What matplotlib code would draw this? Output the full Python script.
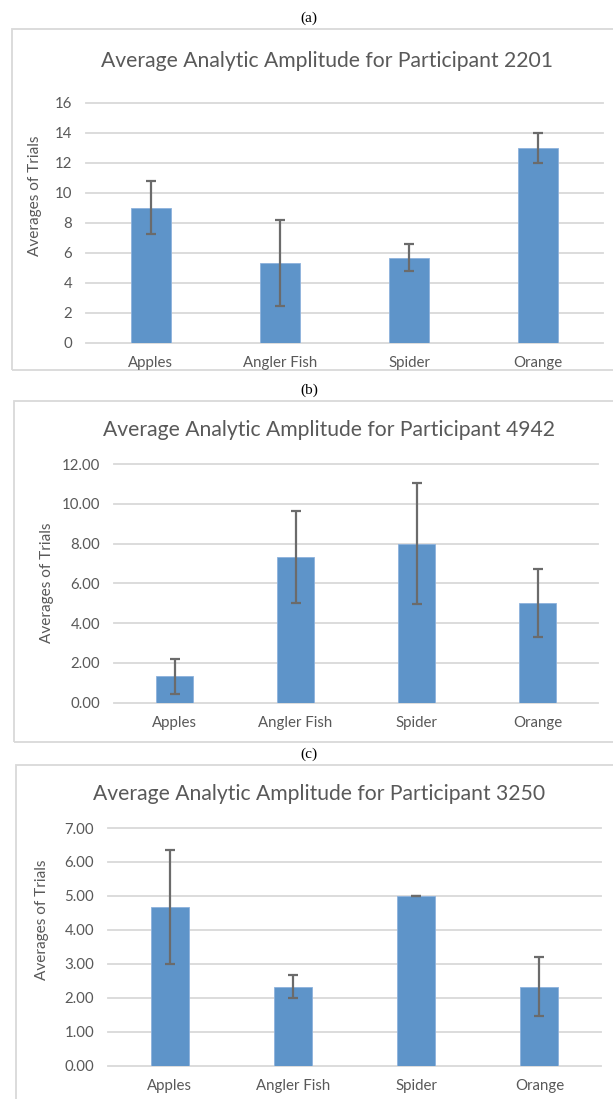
import matplotlib
matplotlib.use("Agg")
import matplotlib.pyplot as plt
from matplotlib.patches import Rectangle
from matplotlib.ticker import FormatStrFormatter

W, H = 613, 1099

categories = ["Apples", "Angler Fish", "Spider", "Orange"]

means_2201 = [9.0, 5.31, 5.67, 13.0]
errs_2201 = [1.75, 2.89, 0.88, 1.0]

means_4942 = [1.33, 7.33, 8.0, 5.0]
errs_4942 = [0.88, 2.33, 3.05, 1.72]

means_3250 = [4.67, 2.33, 5.0, 2.33]
errs_3250 = [1.67, 0.33, 0.0, 0.88]

BAR = "#5E94C9"
ERR = "#6B6B6B"
GRID = "#D9D9D9"
TXT = "#595959"
FONT = "Lato"

plt.rcParams["font.family"] = [FONT, "DejaVu Sans"]

fig = plt.figure(figsize=(W / 100, H / 100), dpi=100)


def fx(x):
    return x / W


def fy(y):
    return 1 - y / H


# one entry per panel: pixel geometry of frame and plot area
panels = [
    dict(tag="(a)", tag_y=18, box=(12, 29, 640, 370), ax=(86, 102.7, 603, 342.7),
         title="Average Analytic Amplitude for Participant 2201", title_xy=(327, 61),
         ylab_xy=(35, 196), means=means_2201, errs=errs_2201, ymax=16, step=2, fmt="%d"),
    dict(tag="(b)", tag_y=390, box=(14, 401, 640, 742), ax=(114, 464, 598, 702.7),
         title="Average Analytic Amplitude for Participant 4942", title_xy=(329, 430.5),
         ylab_xy=(47, 583), means=means_4942, errs=errs_4942, ymax=12, step=2, fmt="%.2f"),
    dict(tag="(c)", tag_y=754, box=(16, 765, 640, 1120), ax=(108, 828, 601, 1065.7),
         title="Average Analytic Amplitude for Participant 3250", title_xy=(319, 794),
         ylab_xy=(42, 920), means=means_3250, errs=errs_3250, ymax=7, step=1, fmt="%.2f"),
]

for p in panels:
    x0, y0, x1, y1 = p["box"]
    fig.patches.append(Rectangle((fx(x0), fy(y1)), fx(x1 - x0), (y1 - y0) / H,
                                 transform=fig.transFigure, facecolor="none",
                                 edgecolor=GRID, linewidth=1.3, zorder=-1))
    fig.text(fx(309), fy(p["tag_y"]), p["tag"], ha="center", va="center",
             family="Liberation Serif", fontsize=11, color="black")

    ax0, ay0, ax1, ay1 = p["ax"]
    ax = fig.add_axes([fx(ax0), fy(ay1), fx(ax1 - ax0), (ay1 - ay0) / H])
    xs = range(len(categories))
    ax.bar(xs, p["means"], width=0.31, color=BAR, edgecolor="#8DB2DC", linewidth=0.6,
           zorder=2)
    ax.errorbar(xs, p["means"], yerr=p["errs"], fmt="none", ecolor=ERR, elinewidth=1.6,
                capsize=3.3, capthick=1.6, zorder=3)
    ax.set_xlim(-0.5, len(categories) - 0.5)
    ax.set_ylim(0, p["ymax"])
    ax.set_yticks(range(0, p["ymax"] + 1, p["step"]))
    ax.yaxis.set_major_formatter(FormatStrFormatter(p["fmt"]))
    ax.set_xticks(list(xs))
    ax.set_xticklabels(categories)
    ax.grid(axis="y", color=GRID, linewidth=1.3)
    for gl in ax.get_ygridlines():
        gl.set_clip_on(False)
    ax.set_axisbelow(True)
    for s in ax.spines.values():
        s.set_visible(False)
    ax.tick_params(axis="both", length=0, colors=TXT, labelsize=10.8)
    ax.tick_params(axis="y", pad=10)
    ax.tick_params(axis="x", pad=9.5)
    ax.set_facecolor("none")

    fig.text(fx(p["title_xy"][0]), fy(p["title_xy"][1]), p["title"], ha="center",
             va="center", fontsize=15.2, color=TXT)
    fig.text(fx(p["ylab_xy"][0]), fy(p["ylab_xy"][1]), "Averages of Trials", ha="center",
             va="center", rotation=90, fontsize=11.1, color=TXT)

fig.savefig("out.png", dpi=100)
plt.close(fig)
